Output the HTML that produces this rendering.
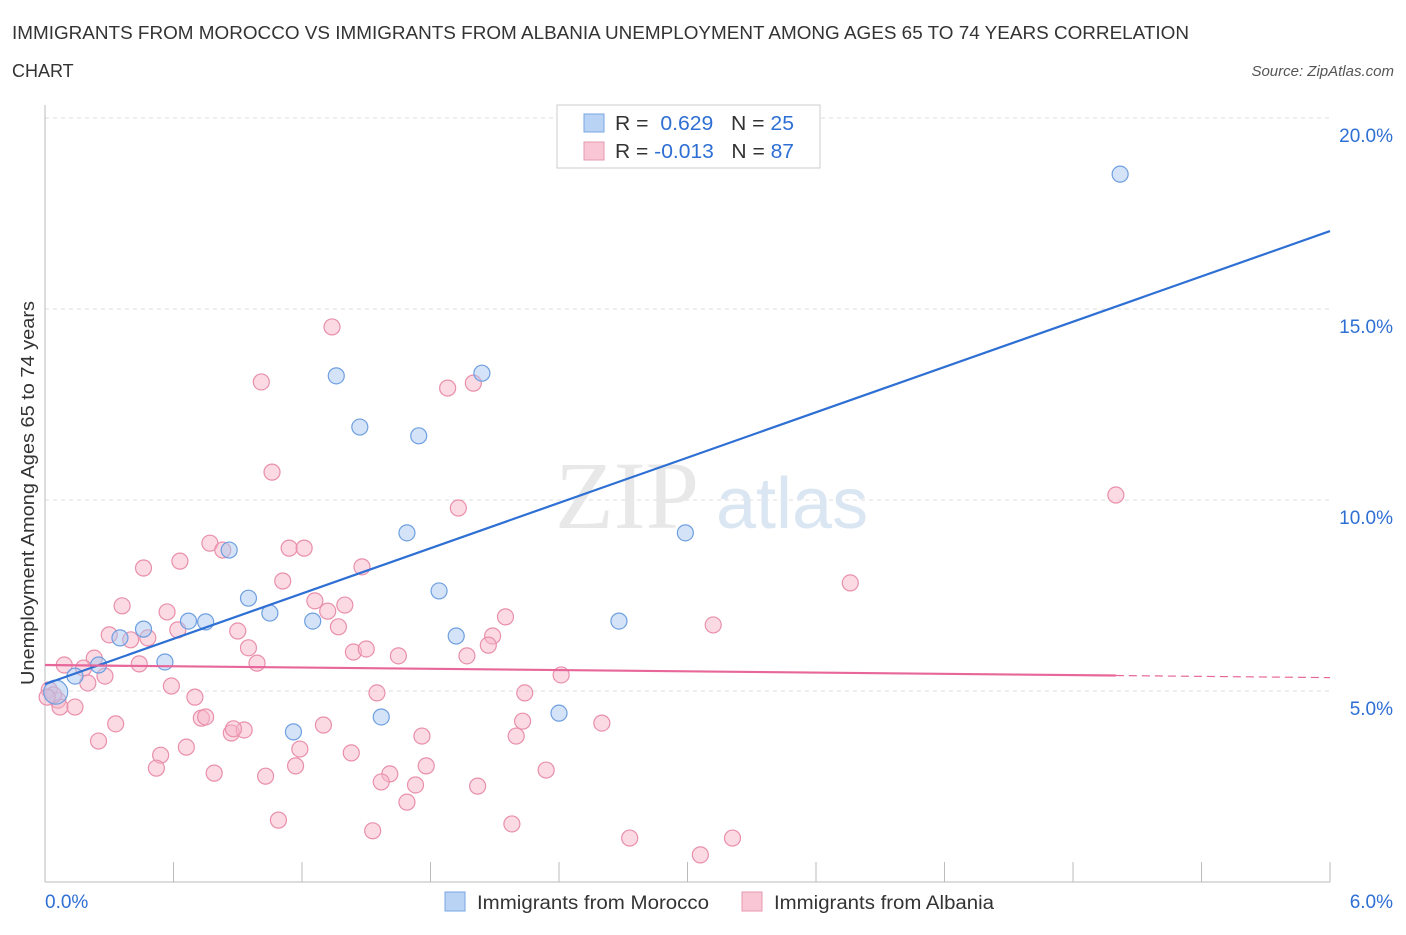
<!DOCTYPE html>
<html><head><meta charset="utf-8"><style>
body{margin:0;background:#fff;font-family:"Liberation Sans",sans-serif;}
</style></head><body>
<svg width="1406" height="930" xmlns="http://www.w3.org/2000/svg" font-family="Liberation Sans, sans-serif">
<text x="12" y="39" font-size="18" fill="#333" textLength="1177" lengthAdjust="spacingAndGlyphs">IMMIGRANTS FROM MOROCCO VS IMMIGRANTS FROM ALBANIA UNEMPLOYMENT AMONG AGES 65 TO 74 YEARS CORRELATION</text>
<text x="12" y="77" font-size="18" fill="#333">CHART</text>
<text x="1394" y="76" font-size="15" fill="#555" text-anchor="end" font-style="italic">Source: ZipAtlas.com</text>
<g id="grid"></g>
<text x="555" y="528" font-size="96" fill="#e8e8e8" font-family="Liberation Serif, serif">ZIP</text>
<text x="716" y="528" font-size="72" fill="#dbe6f3">atlas</text>
<g id="marks"></g>
<text transform="translate(34,493) rotate(-90)" font-size="18" fill="#333" text-anchor="middle" textLength="384" lengthAdjust="spacingAndGlyphs">Unemployment Among Ages 65 to 74 years</text>
<g>
<rect x="557" y="105" width="263" height="63" fill="#fff" stroke="#ccc"/>
<rect x="584" y="114" width="20" height="18" fill="#b9d3f5" stroke="#7aa6e3"/>
<text x="615" y="130" font-size="20" fill="#333" textLength="179" lengthAdjust="spacingAndGlyphs">R = <tspan fill="#2e6fd4">&#160;0.629</tspan>&#160;&#160;&#160;N = <tspan fill="#2e6fd4">25</tspan></text>
<rect x="584" y="142" width="20" height="18" fill="#f9c6d5" stroke="#e899b1"/>
<text x="615" y="158" font-size="20" fill="#333" textLength="179" lengthAdjust="spacingAndGlyphs">R = <tspan fill="#2e6fd4">-0.013</tspan>&#160;&#160;&#160;N = <tspan fill="#2e6fd4">87</tspan></text>
</g>
<g>
<rect x="445" y="892" width="20" height="19" fill="#b9d3f5" stroke="#7aa6e3"/>
<text x="477" y="909" font-size="19" fill="#333" textLength="232" lengthAdjust="spacingAndGlyphs">Immigrants from Morocco</text>
<rect x="742" y="892" width="20" height="19" fill="#f9c6d5" stroke="#e899b1"/>
<text x="774" y="909" font-size="19" fill="#333" textLength="220" lengthAdjust="spacingAndGlyphs">Immigrants from Albania</text>
</g>
</svg>
<script>
const xTicks=[0,0.6,1.2,1.8,2.4,3.0,3.6,4.2,4.8,5.4,6.0];
const yTicks=[5,10,15,20];
const yTickLabels=["5.0%","10.0%","15.0%","20.0%"];
const moroccoX=[5.02,1.36,2.04,1.47,1.745,1.69,2.99,0.86,1.84,0.95,1.05,0.67,0.75,1.25,2.68,0.46,0.35,1.92,0.56,0.25,0.14,0.05,1.16,1.57,2.40];
const moroccoY=[18.53,13.25,13.32,11.91,11.68,9.14,9.14,8.69,7.62,7.43,7.04,6.83,6.81,6.83,6.83,6.62,6.39,6.44,5.76,5.68,5.39,4.97,3.93,4.32,4.42];
const albaniaX=[1.34,1.01,1.88,2.00,1.06,1.93,5.00,0.77,0.83,1.14,1.21,0.63,0.46,1.48,3.76,1.11,0.36,0.57,1.26,1.32,1.40,2.15,0.62,0.90,1.37,3.12,0.30,0.40,0.48,2.09,2.07,0.95,1.44,1.50,1.65,1.97,0.23,0.44,0.99,0.09,0.18,0.28,0.20,2.41,0.59,0.70,1.55,2.24,0.02,0.06,0.07,0.14,0.73,0.75,0.33,0.87,0.93,0.88,1.30,2.23,2.60,1.76,2.20,0.25,0.66,1.19,0.54,1.43,1.17,1.78,0.52,0.79,1.03,1.61,2.34,1.57,1.73,2.02,1.69,1.09,2.18,1.53,2.73,3.21,3.06,0.04,0.01];
const albaniaY=[14.53,13.09,12.93,13.06,10.73,9.79,10.13,8.87,8.69,8.74,8.74,8.40,8.22,8.25,7.83,7.88,7.23,7.07,7.36,7.09,7.25,6.94,6.60,6.57,6.68,6.73,6.47,6.34,6.39,6.44,6.20,6.13,6.02,6.10,5.92,5.92,5.86,5.71,5.73,5.68,5.60,5.39,5.21,5.42,5.13,4.84,4.95,4.95,5.03,4.76,4.58,4.58,4.29,4.32,4.14,3.90,3.98,4.01,4.11,4.21,4.16,3.82,3.82,3.69,3.53,3.48,3.32,3.38,3.04,3.04,2.98,2.85,2.77,2.83,2.93,2.62,2.54,2.51,2.09,1.62,1.52,1.34,1.15,1.15,0.71,4.90,4.84];
const moroccoTrend=[5.18,17.04];
const albaniaTrend=[5.68,5.35];
const X=v=>45+v*214.17, Y=v=>882-v*38.2;
const NS="http://www.w3.org/2000/svg";
function mk(tag,attrs,parent){const e=document.createElementNS(NS,tag);for(const k in attrs)e.setAttribute(k,attrs[k]);parent.appendChild(e);return e;}
const grid=document.getElementById('grid'), marks=document.getElementById('marks');
yTicks.forEach((t,i)=>{
 const l=mk('line',{x1:45,x2:1330,y1:Y(t),y2:Y(t),stroke:'#ddd','stroke-dasharray':'4,4'},grid);
 
 
 const tx=mk('text',{x:1393,y:Y(t)+24,'font-size':19,fill:'#2e6fd4','text-anchor':'end'},grid);
 tx.textContent=yTickLabels[i];
 
 
});
const ax=mk('line',{x1:45,x2:1330,y1:882,y2:882,stroke:'#bbb'},grid);


const ay=mk('line',{x1:45,x2:45,y1:105,y2:882,stroke:'#bbb'},grid);


xTicks.forEach(t=>{
 const l=mk('line',{x1:X(t),x2:X(t),y1:862,y2:882,stroke:'#bbb'},grid);
 
 
});
[[0,"0.0%","start",45],[6,"6.0%","end",1393]].forEach(a=>{
 const tx=mk('text',{x:a[3],y:908,'font-size':19,fill:'#2e6fd4','text-anchor':a[2]},grid);
 tx.textContent=a[1];
 
 
});
albaniaX.forEach((x,i)=>{
 const c=mk('circle',{cx:X(x),cy:Y(albaniaY[i]),r:8,fill:'rgba(247,182,201,0.5)',stroke:'#e98fab','stroke-width':1.2},marks);
 
 
});
moroccoX.forEach((x,i)=>{
 const c=mk('circle',{cx:X(x),cy:Y(moroccoY[i]),r:i==21?12:8,fill:'rgba(169,200,240,0.5)',stroke:'#6e9fe0','stroke-width':1.2},marks);
 
 
});
const bl=mk('line',{x1:X(0),y1:Y(moroccoTrend[0]),x2:X(6),y2:Y(moroccoTrend[1]),stroke:'#2e6fd4','stroke-width':2.2},marks);


const pe=albaniaTrend[0]+(albaniaTrend[1]-albaniaTrend[0])*5/6;
const pl=mk('line',{x1:X(0),y1:Y(albaniaTrend[0]),x2:X(5),y2:Y(pe),stroke:'#e8679a','stroke-width':2.2},marks);


const pd=mk('line',{x1:X(5),y1:Y(pe),x2:X(6),y2:Y(albaniaTrend[1]),stroke:'#e8679a','stroke-width':1.2,'stroke-dasharray':'8,5'},marks);


</script>
</body></html>
